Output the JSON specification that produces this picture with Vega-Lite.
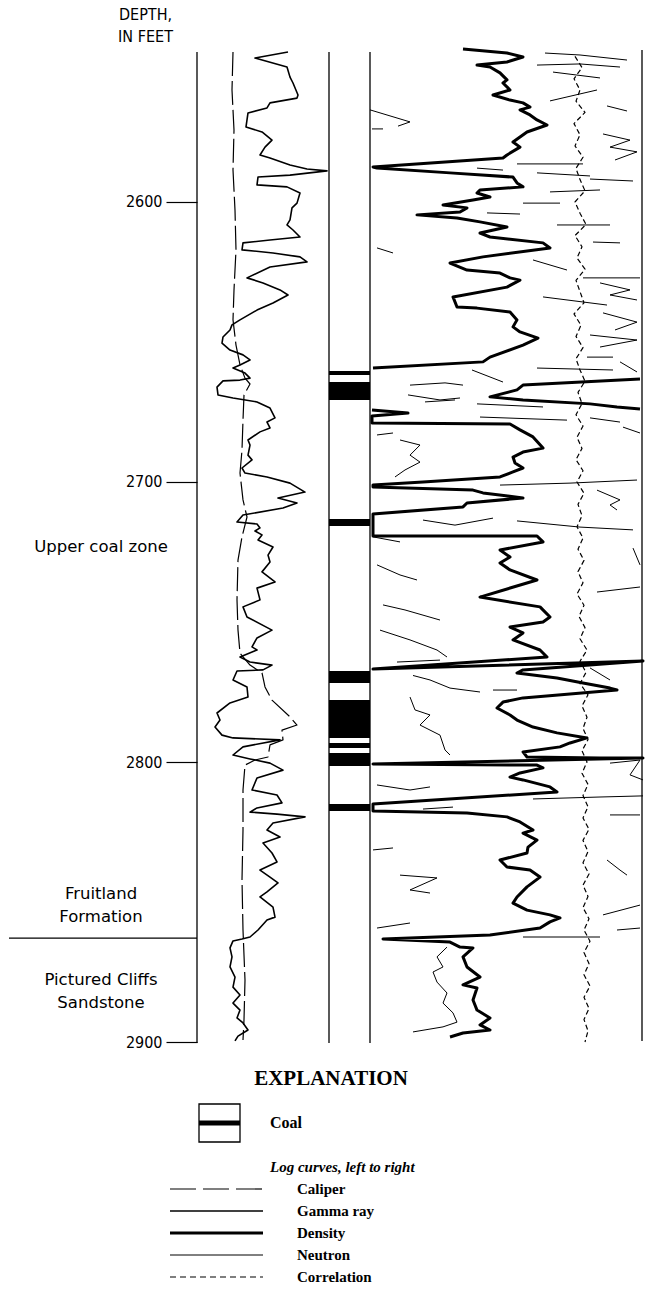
{
  "$schema": "https://vega.github.io/schema/vega-lite/v6.json",
  "width": 649,
  "height": 1293,
  "autosize": {"type": "fit", "contains": "padding"},
  "padding": 0,
  "background": "white",
  "config": {"view": {"stroke": null}},
  "datasets": {
    "gamma": [
      {"depth":2546.4,"value":91},{"depth":2548.6,"value":58},{"depth":2551.8,"value":90},{"depth":2555.4,"value":93},{"depth":2557.5,"value":96},{"depth":2561.8,"value":101},{"depth":2562.9,"value":100},{"depth":2564.6,"value":73},{"depth":2566.4,"value":70},{"depth":2568.2,"value":51},{"depth":2573.2,"value":49},{"depth":2575.0,"value":65},{"depth":2577.9,"value":75},{"depth":2580.4,"value":68},{"depth":2583.2,"value":63},{"depth":2584.3,"value":73},{"depth":2586.8,"value":93},{"depth":2588.2,"value":110},{"depth":2588.9,"value":130},{"depth":2590.4,"value":93},{"depth":2591.1,"value":61},{"depth":2593.9,"value":60},{"depth":2594.6,"value":90},{"depth":2596.8,"value":103},{"depth":2600.4,"value":100},{"depth":2602.1,"value":95},{"depth":2606.4,"value":93},{"depth":2608.2,"value":90},{"depth":2610.0,"value":96},{"depth":2612.5,"value":103},{"depth":2613.6,"value":73},{"depth":2614.6,"value":46},{"depth":2617.1,"value":45},{"depth":2618.2,"value":76},{"depth":2619.6,"value":103},{"depth":2621.4,"value":110},{"depth":2623.2,"value":73},{"depth":2627.1,"value":50},{"depth":2628.9,"value":66},{"depth":2631.4,"value":83},{"depth":2633.2,"value":91},{"depth":2636.1,"value":76},{"depth":2638.6,"value":60},{"depth":2642.1,"value":43},{"depth":2643.9,"value":35},{"depth":2645.7,"value":33},{"depth":2648.2,"value":26},{"depth":2650.4,"value":25},{"depth":2652.9,"value":33},{"depth":2654.6,"value":46},{"depth":2656.4,"value":53},{"depth":2658.2,"value":43},{"depth":2659.3,"value":36},{"depth":2661.1,"value":48},{"depth":2662.9,"value":53},{"depth":2663.6,"value":43},{"depth":2663.9,"value":26},{"depth":2666.1,"value":20},{"depth":2668.9,"value":21},{"depth":2670.0,"value":36},{"depth":2671.4,"value":60},{"depth":2673.6,"value":73},{"depth":2677.1,"value":78},{"depth":2678.6,"value":70},{"depth":2680.7,"value":73},{"depth":2682.1,"value":63},{"depth":2685.0,"value":51},{"depth":2686.8,"value":53},{"depth":2690.4,"value":51},{"depth":2692.1,"value":55},{"depth":2695.0,"value":45},{"depth":2696.8,"value":48},{"depth":2698.2,"value":70},{"depth":2700.4,"value":93},{"depth":2703.6,"value":108},{"depth":2705.7,"value":81},{"depth":2707.5,"value":100},{"depth":2709.3,"value":86},{"depth":2711.8,"value":46},{"depth":2714.3,"value":40},{"depth":2715.0,"value":60},{"depth":2716.4,"value":63},{"depth":2717.5,"value":58},{"depth":2718.9,"value":65},{"depth":2720.7,"value":61},{"depth":2723.2,"value":76},{"depth":2726.1,"value":71},{"depth":2728.6,"value":73},{"depth":2732.1,"value":65},{"depth":2735.7,"value":78},{"depth":2737.9,"value":60},{"depth":2742.1,"value":63},{"depth":2744.6,"value":46},{"depth":2748.2,"value":50},{"depth":2752.9,"value":75},{"depth":2755.7,"value":60},{"depth":2758.9,"value":55},{"depth":2760.0,"value":60},{"depth":2762.5,"value":43},{"depth":2764.3,"value":53},{"depth":2765.4,"value":75},{"depth":2767.1,"value":66},{"depth":2767.5,"value":40},{"depth":2770.7,"value":36},{"depth":2773.2,"value":50},{"depth":2776.8,"value":51},{"depth":2778.9,"value":33},{"depth":2782.5,"value":20},{"depth":2785.0,"value":23},{"depth":2787.5,"value":18},{"depth":2790.4,"value":25},{"depth":2791.4,"value":36},{"depth":2792.1,"value":83},{"depth":2794.6,"value":46},{"depth":2797.5,"value":36},{"depth":2798.9,"value":53},{"depth":2800.4,"value":73},{"depth":2802.9,"value":86},{"depth":2805.7,"value":60},{"depth":2810.0,"value":55},{"depth":2811.8,"value":80},{"depth":2814.6,"value":85},{"depth":2816.4,"value":60},{"depth":2817.9,"value":53},{"depth":2818.6,"value":80},{"depth":2819.6,"value":108},{"depth":2821.8,"value":76},{"depth":2824.3,"value":70},{"depth":2826.8,"value":83},{"depth":2828.9,"value":66},{"depth":2832.5,"value":75},{"depth":2835.7,"value":80},{"depth":2838.6,"value":63},{"depth":2841.1,"value":73},{"depth":2843.2,"value":81},{"depth":2846.4,"value":70},{"depth":2848.2,"value":63},{"depth":2851.8,"value":76},{"depth":2855.4,"value":78},{"depth":2856.4,"value":70},{"depth":2860.0,"value":61},{"depth":2862.5,"value":53},{"depth":2863.2,"value":45},{"depth":2863.9,"value":36},{"depth":2866.4,"value":33},{"depth":2869.6,"value":35},{"depth":2873.2,"value":33},{"depth":2876.8,"value":38},{"depth":2880.4,"value":36},{"depth":2883.2,"value":43},{"depth":2886.1,"value":36},{"depth":2888.6,"value":43},{"depth":2891.4,"value":40},{"depth":2893.2,"value":46},{"depth":2895.7,"value":51},{"depth":2897.9,"value":41},{"depth":2899.6,"value":38}
    ],
    "caliper": [
      {"depth":2546.4,"value":36},{"depth":2560.0,"value":35},{"depth":2574.3,"value":37},{"depth":2588.6,"value":36},{"depth":2602.9,"value":38},{"depth":2617.1,"value":39},{"depth":2631.4,"value":37},{"depth":2642.1,"value":36},{"depth":2651.1,"value":39},{"depth":2658.2,"value":43},{"depth":2662.9,"value":48},{"depth":2665.0,"value":53},{"depth":2668.9,"value":47},{"depth":2677.9,"value":46},{"depth":2688.6,"value":45},{"depth":2696.8,"value":43},{"depth":2706.4,"value":46},{"depth":2712.5,"value":50},{"depth":2719.6,"value":45},{"depth":2727.9,"value":41},{"depth":2742.1,"value":40},{"depth":2752.9,"value":41},{"depth":2761.1,"value":43},{"depth":2765.4,"value":53},{"depth":2768.2,"value":65},{"depth":2773.2,"value":68},{"depth":2777.9,"value":75},{"depth":2783.9,"value":93},{"depth":2786.8,"value":100},{"depth":2788.6,"value":85},{"depth":2792.1,"value":86},{"depth":2793.9,"value":73},{"depth":2798.2,"value":71},{"depth":2799.3,"value":58},{"depth":2801.1,"value":48},{"depth":2810.0,"value":46},{"depth":2824.3,"value":46},{"depth":2842.1,"value":45},{"depth":2860.0,"value":46},{"depth":2877.9,"value":48},{"depth":2892.1,"value":47},{"depth":2899.3,"value":46}
    ],
    "density": [
      {"seg":1,"depth":2545.4,"value":266},{"seg":1,"depth":2546.8,"value":310},{"seg":1,"depth":2548.2,"value":326},{"seg":1,"depth":2550.0,"value":310},{"seg":1,"depth":2551.1,"value":280},{"seg":1,"depth":2551.8,"value":293},{"seg":1,"depth":2553.9,"value":303},{"seg":1,"depth":2556.4,"value":310},{"seg":1,"depth":2557.5,"value":306},{"seg":1,"depth":2560.0,"value":313},{"seg":1,"depth":2561.8,"value":296},{"seg":1,"depth":2563.6,"value":313},{"seg":1,"depth":2564.6,"value":326},{"seg":1,"depth":2566.1,"value":333},{"seg":1,"depth":2567.1,"value":323},{"seg":1,"depth":2568.9,"value":333},{"seg":1,"depth":2570.7,"value":340},{"seg":1,"depth":2572.5,"value":350},{"seg":1,"depth":2575.0,"value":330},{"seg":1,"depth":2576.8,"value":323},{"seg":1,"depth":2578.6,"value":316},{"seg":1,"depth":2580.4,"value":323},{"seg":1,"depth":2583.2,"value":310},{"seg":1,"depth":2584.3,"value":306},{"seg":1,"depth":2587.5,"value":176},{"seg":1,"depth":2587.9,"value":180},{"seg":1,"depth":2589.6,"value":253},{"seg":1,"depth":2591.1,"value":316},{"seg":1,"depth":2593.2,"value":320},{"seg":1,"depth":2594.6,"value":326},{"seg":1,"depth":2595.7,"value":283},{"seg":1,"depth":2596.8,"value":280},{"seg":1,"depth":2598.2,"value":293},{"seg":1,"depth":2599.3,"value":276},{"seg":1,"depth":2601.1,"value":246},{"seg":1,"depth":2602.1,"value":270},{"seg":1,"depth":2603.6,"value":263},{"seg":1,"depth":2604.6,"value":220},{"seg":1,"depth":2605.7,"value":260},{"seg":1,"depth":2607.1,"value":283},{"seg":1,"depth":2608.9,"value":310},{"seg":1,"depth":2611.1,"value":283},{"seg":1,"depth":2612.5,"value":293},{"seg":1,"depth":2614.6,"value":346},{"seg":1,"depth":2616.4,"value":353},{"seg":1,"depth":2619.6,"value":286},{"seg":1,"depth":2621.8,"value":253},{"seg":1,"depth":2624.3,"value":270},{"seg":1,"depth":2625.4,"value":303},{"seg":1,"depth":2627.1,"value":313},{"seg":1,"depth":2627.9,"value":323},{"seg":1,"depth":2630.4,"value":310},{"seg":1,"depth":2633.9,"value":256},{"seg":1,"depth":2637.5,"value":260},{"seg":1,"depth":2637.9,"value":280},{"seg":1,"depth":2639.3,"value":313},{"seg":1,"depth":2642.1,"value":320},{"seg":1,"depth":2644.6,"value":316},{"seg":1,"depth":2646.4,"value":323},{"seg":1,"depth":2648.6,"value":341},{"seg":1,"depth":2651.1,"value":326},{"seg":1,"depth":2655.4,"value":293},{"seg":1,"depth":2657.1,"value":286},{"seg":1,"depth":2659.3,"value":176},
      {"seg":2,"depth":2663.2,"value":443},{"seg":2,"depth":2665.4,"value":326},{"seg":2,"depth":2667.1,"value":320},{"seg":2,"depth":2669.6,"value":293},{"seg":2,"depth":2670.7,"value":326},{"seg":2,"depth":2672.1,"value":393},{"seg":2,"depth":2673.2,"value":420},{"seg":2,"depth":2673.9,"value":443},
      {"seg":3,"depth":2674.3,"value":175},{"seg":3,"depth":2675.4,"value":211},{"seg":3,"depth":2676.4,"value":175},{"seg":3,"depth":2678.9,"value":175},{"seg":3,"depth":2679.3,"value":313},{"seg":3,"depth":2681.4,"value":323},{"seg":3,"depth":2683.9,"value":336},{"seg":3,"depth":2687.9,"value":346},{"seg":3,"depth":2689.3,"value":326},{"seg":3,"depth":2691.1,"value":316},{"seg":3,"depth":2693.2,"value":318},{"seg":3,"depth":2695.0,"value":326},{"seg":3,"depth":2696.4,"value":316},{"seg":3,"depth":2698.2,"value":303},{"seg":3,"depth":2700.0,"value":226},{"seg":3,"depth":2701.1,"value":176},{"seg":3,"depth":2701.8,"value":176},{"seg":3,"depth":2702.9,"value":276},{"seg":3,"depth":2703.9,"value":286},{"seg":3,"depth":2705.7,"value":326},{"seg":3,"depth":2707.5,"value":270},{"seg":3,"depth":2708.9,"value":266},{"seg":3,"depth":2711.4,"value":176},{"seg":3,"depth":2719.3,"value":176},{"seg":3,"depth":2719.3,"value":340},{"seg":3,"depth":2721.4,"value":346},{"seg":3,"depth":2724.3,"value":303},{"seg":3,"depth":2726.8,"value":313},{"seg":3,"depth":2728.9,"value":303},{"seg":3,"depth":2731.4,"value":313},{"seg":3,"depth":2735.0,"value":340},{"seg":3,"depth":2741.1,"value":283},{"seg":3,"depth":2744.6,"value":343},{"seg":3,"depth":2748.2,"value":353},{"seg":3,"depth":2750.0,"value":346},{"seg":3,"depth":2751.8,"value":313},{"seg":3,"depth":2753.9,"value":326},{"seg":3,"depth":2756.4,"value":316},{"seg":3,"depth":2760.0,"value":343},{"seg":3,"depth":2762.5,"value":350},{"seg":3,"depth":2766.8,"value":176},{"seg":3,"depth":2763.9,"value":446},{"seg":3,"depth":2767.1,"value":326},{"seg":3,"depth":2768.2,"value":320},{"seg":3,"depth":2770.0,"value":360},{"seg":3,"depth":2771.8,"value":386},{"seg":3,"depth":2773.6,"value":413},{"seg":3,"depth":2774.3,"value":420},{"seg":3,"depth":2777.1,"value":326},{"seg":3,"depth":2778.6,"value":306},{"seg":3,"depth":2780.7,"value":300},{"seg":3,"depth":2783.2,"value":313},{"seg":3,"depth":2785.0,"value":320},{"seg":3,"depth":2787.5,"value":336},{"seg":3,"depth":2789.6,"value":360},{"seg":3,"depth":2791.4,"value":390},{"seg":3,"depth":2793.2,"value":373},{"seg":3,"depth":2794.6,"value":363},{"seg":3,"depth":2796.4,"value":326},{"seg":3,"depth":2798.2,"value":330},{"seg":3,"depth":2798.6,"value":403},{"seg":3,"depth":2798.6,"value":446},{"seg":3,"depth":2800.7,"value":176},{"seg":3,"depth":2801.1,"value":340},{"seg":3,"depth":2802.1,"value":346},{"seg":3,"depth":2803.9,"value":323},{"seg":3,"depth":2805.4,"value":313},{"seg":3,"depth":2806.4,"value":326},{"seg":3,"depth":2808.9,"value":353},{"seg":3,"depth":2810.7,"value":360},{"seg":3,"depth":2815.0,"value":176},{"seg":3,"depth":2817.5,"value":176},{"seg":3,"depth":2818.2,"value":270},{"seg":3,"depth":2819.6,"value":310},{"seg":3,"depth":2821.4,"value":323},{"seg":3,"depth":2824.3,"value":336},{"seg":3,"depth":2825.4,"value":326},{"seg":3,"depth":2827.9,"value":340},{"seg":3,"depth":2830.4,"value":331},{"seg":3,"depth":2832.5,"value":330},{"seg":3,"depth":2835.0,"value":303},{"seg":3,"depth":2837.5,"value":310},{"seg":3,"depth":2838.6,"value":333},{"seg":3,"depth":2841.1,"value":343},{"seg":3,"depth":2844.6,"value":330},{"seg":3,"depth":2848.2,"value":320},{"seg":3,"depth":2850.4,"value":316},{"seg":3,"depth":2852.9,"value":330},{"seg":3,"depth":2854.6,"value":353},{"seg":3,"depth":2855.7,"value":363},{"seg":3,"depth":2857.1,"value":353},{"seg":3,"depth":2859.3,"value":343},{"seg":3,"depth":2861.8,"value":293},{"seg":3,"depth":2863.2,"value":186},{"seg":3,"depth":2864.3,"value":253},{"seg":3,"depth":2866.1,"value":263},{"seg":3,"depth":2866.4,"value":276},{"seg":3,"depth":2869.6,"value":266},{"seg":3,"depth":2873.2,"value":270},{"seg":3,"depth":2876.8,"value":283},{"seg":3,"depth":2879.6,"value":266},{"seg":3,"depth":2880.7,"value":280},{"seg":3,"depth":2885.0,"value":276},{"seg":3,"depth":2888.6,"value":280},{"seg":3,"depth":2891.4,"value":293},{"seg":3,"depth":2893.9,"value":283},{"seg":3,"depth":2895.7,"value":293},{"seg":3,"depth":2896.8,"value":266},{"seg":3,"depth":2898.2,"value":253}
    ],
    "neutron": [
      {"seg":1,"depth":2546.8,"value":348},{"seg":1,"depth":2547.5,"value":383},{"seg":1,"depth":2549.3,"value":430},
      {"seg":2,"depth":2551.1,"value":340},{"seg":2,"depth":2550.7,"value":383},{"seg":2,"depth":2551.8,"value":423},
      {"seg":3,"depth":2553.6,"value":356},{"seg":3,"depth":2555.7,"value":403},
      {"seg":4,"depth":2563.9,"value":353},{"seg":4,"depth":2560.0,"value":400},
      {"seg":5,"depth":2565.7,"value":410},{"seg":5,"depth":2567.5,"value":430},
      {"seg":6,"depth":2567.1,"value":173},{"seg":6,"depth":2571.4,"value":213},{"seg":6,"depth":2572.9,"value":201},
      {"seg":7,"depth":2573.9,"value":175},{"seg":7,"depth":2573.9,"value":186},
      {"seg":8,"depth":2575.7,"value":406},{"seg":8,"depth":2577.9,"value":433},{"seg":8,"depth":2580.4,"value":413},{"seg":8,"depth":2582.1,"value":440},{"seg":8,"depth":2585.0,"value":418},
      {"seg":9,"depth":2586.4,"value":320},{"seg":9,"depth":2586.4,"value":386},
      {"seg":10,"depth":2587.9,"value":280},{"seg":10,"depth":2588.6,"value":306},
      {"seg":11,"depth":2589.6,"value":340},{"seg":11,"depth":2590.7,"value":393},
      {"seg":12,"depth":2591.8,"value":393},{"seg":12,"depth":2592.5,"value":436},
      {"seg":13,"depth":2596.4,"value":353},{"seg":13,"depth":2595.7,"value":403},
      {"seg":14,"depth":2600.4,"value":326},{"seg":14,"depth":2600.4,"value":363},
      {"seg":15,"depth":2603.9,"value":290},{"seg":15,"depth":2604.3,"value":323},
      {"seg":16,"depth":2608.2,"value":360},{"seg":16,"depth":2608.2,"value":413},
      {"seg":17,"depth":2614.3,"value":396},{"seg":17,"depth":2614.6,"value":423},
      {"seg":18,"depth":2620.7,"value":336},{"seg":18,"depth":2624.3,"value":370},
      {"seg":19,"depth":2627.1,"value":386},{"seg":19,"depth":2627.1,"value":443},
      {"seg":20,"depth":2628.9,"value":403},{"seg":20,"depth":2631.4,"value":433},{"seg":20,"depth":2633.2,"value":413},{"seg":20,"depth":2635.0,"value":440},
      {"seg":21,"depth":2633.9,"value":346},{"seg":21,"depth":2636.8,"value":410},
      {"seg":22,"depth":2639.6,"value":406},{"seg":22,"depth":2642.9,"value":440},{"seg":22,"depth":2645.7,"value":418},
      {"seg":23,"depth":2616.4,"value":180},{"seg":23,"depth":2618.2,"value":196},
      {"seg":24,"depth":2647.5,"value":393},{"seg":24,"depth":2649.3,"value":440},{"seg":24,"depth":2651.8,"value":403},
      {"seg":25,"depth":2655.4,"value":390},{"seg":25,"depth":2655.4,"value":416},
      {"seg":26,"depth":2659.3,"value":340},{"seg":26,"depth":2660.0,"value":416},
      {"seg":27,"depth":2657.1,"value":423},{"seg":27,"depth":2660.7,"value":440},
      {"seg":28,"depth":2660.0,"value":275},{"seg":28,"depth":2664.3,"value":306},
      {"seg":29,"depth":2665.4,"value":213},{"seg":29,"depth":2664.6,"value":248},{"seg":29,"depth":2665.4,"value":266},
      {"seg":30,"depth":2668.9,"value":211},{"seg":30,"depth":2670.7,"value":243},{"seg":30,"depth":2670.0,"value":263},
      {"seg":31,"depth":2671.4,"value":228},{"seg":31,"depth":2670.7,"value":258},
      {"seg":32,"depth":2672.1,"value":280},{"seg":32,"depth":2673.2,"value":346},
      {"seg":33,"depth":2676.8,"value":283},{"seg":33,"depth":2677.9,"value":370},
      {"seg":34,"depth":2677.1,"value":393},{"seg":34,"depth":2678.6,"value":423},
      {"seg":35,"depth":2680.4,"value":426},{"seg":35,"depth":2682.5,"value":443},
      {"seg":36,"depth":2683.2,"value":180},{"seg":36,"depth":2682.5,"value":196},
      {"seg":37,"depth":2685.0,"value":203},{"seg":37,"depth":2686.8,"value":223},{"seg":37,"depth":2690.4,"value":213},{"seg":37,"depth":2692.9,"value":223},{"seg":37,"depth":2695.7,"value":208},{"seg":37,"depth":2698.2,"value":198},
      {"seg":38,"depth":2701.1,"value":303},{"seg":38,"depth":2700.4,"value":373},{"seg":38,"depth":2699.3,"value":440},
      {"seg":39,"depth":2702.9,"value":400},{"seg":39,"depth":2706.4,"value":423},{"seg":39,"depth":2708.2,"value":413},{"seg":39,"depth":2710.0,"value":420},
      {"seg":40,"depth":2713.6,"value":226},{"seg":40,"depth":2715.4,"value":258},{"seg":40,"depth":2712.9,"value":296},
      {"seg":41,"depth":2713.9,"value":320},{"seg":41,"depth":2716.1,"value":383},{"seg":41,"depth":2717.1,"value":436},
      {"seg":42,"depth":2719.6,"value":176},{"seg":42,"depth":2721.4,"value":203},
      {"seg":43,"depth":2729.6,"value":180},{"seg":43,"depth":2733.2,"value":203},{"seg":43,"depth":2735.0,"value":220},
      {"seg":44,"depth":2743.9,"value":186},{"seg":44,"depth":2745.7,"value":208},{"seg":44,"depth":2749.3,"value":243},
      {"seg":45,"depth":2739.3,"value":400},{"seg":45,"depth":2737.5,"value":443},
      {"seg":46,"depth":2723.6,"value":436},{"seg":46,"depth":2729.6,"value":443},
      {"seg":47,"depth":2752.9,"value":183},{"seg":47,"depth":2756.4,"value":213},{"seg":47,"depth":2760.0,"value":240},{"seg":47,"depth":2762.5,"value":250},
      {"seg":48,"depth":2764.3,"value":200},{"seg":48,"depth":2763.6,"value":243},
      {"seg":49,"depth":2769.1,"value":216},{"seg":49,"depth":2770.7,"value":233},{"seg":49,"depth":2773.6,"value":253},{"seg":49,"depth":2775.0,"value":283},
      {"seg":50,"depth":2774.3,"value":296},{"seg":50,"depth":2774.3,"value":320},
      {"seg":51,"depth":2776.8,"value":213},{"seg":51,"depth":2781.4,"value":218},{"seg":51,"depth":2783.2,"value":233},{"seg":51,"depth":2786.8,"value":223},{"seg":51,"depth":2790.4,"value":243},{"seg":51,"depth":2795.7,"value":248},{"seg":51,"depth":2797.5,"value":253},
      {"seg":52,"depth":2766.4,"value":393},{"seg":52,"depth":2770.7,"value":413},
      {"seg":53,"depth":2808.2,"value":180},{"seg":53,"depth":2810.0,"value":213},{"seg":53,"depth":2808.9,"value":233},
      {"seg":54,"depth":2813.2,"value":336},{"seg":54,"depth":2812.5,"value":403},{"seg":54,"depth":2812.1,"value":446},
      {"seg":55,"depth":2816.8,"value":226},{"seg":55,"depth":2816.1,"value":256},
      {"seg":56,"depth":2800.4,"value":413},{"seg":56,"depth":2799.3,"value":443},{"seg":56,"depth":2804.6,"value":433},{"seg":56,"depth":2806.4,"value":446},
      {"seg":57,"depth":2818.9,"value":413},{"seg":57,"depth":2818.9,"value":443},
      {"seg":58,"depth":2831.4,"value":176},{"seg":58,"depth":2830.7,"value":196},
      {"seg":59,"depth":2840.4,"value":203},{"seg":59,"depth":2841.4,"value":240},{"seg":59,"depth":2845.7,"value":213},{"seg":59,"depth":2846.8,"value":233},
      {"seg":60,"depth":2859.3,"value":180},{"seg":60,"depth":2857.5,"value":213},
      {"seg":61,"depth":2862.5,"value":326},{"seg":61,"depth":2862.5,"value":403},
      {"seg":62,"depth":2835.0,"value":410},{"seg":62,"depth":2838.6,"value":423},{"seg":62,"depth":2840.4,"value":430},
      {"seg":63,"depth":2854.6,"value":406},{"seg":63,"depth":2851.1,"value":443},
      {"seg":64,"depth":2860.0,"value":420},{"seg":64,"depth":2859.3,"value":443},
      {"seg":65,"depth":2866.1,"value":250},{"seg":65,"depth":2869.6,"value":240},{"seg":65,"depth":2873.2,"value":246},{"seg":65,"depth":2875.0,"value":236},{"seg":65,"depth":2878.6,"value":240},{"seg":65,"depth":2882.5,"value":250},{"seg":65,"depth":2886.1,"value":246},{"seg":65,"depth":2889.6,"value":256},{"seg":65,"depth":2892.9,"value":260},{"seg":65,"depth":2894.6,"value":246},{"seg":65,"depth":2896.4,"value":216}
    ],
    "correlation": [
      {"depth":2548,"value":378},{"depth":2552,"value":385},{"depth":2556,"value":377},{"depth":2560,"value":383},{"depth":2564,"value":379},{"depth":2568,"value":388},{"depth":2572,"value":377},{"depth":2576,"value":383},{"depth":2580,"value":378},{"depth":2584,"value":386},{"depth":2588,"value":379},{"depth":2592,"value":383},{"depth":2596,"value":388},{"depth":2600,"value":378},{"depth":2604,"value":383},{"depth":2608,"value":389},{"depth":2612,"value":378},{"depth":2616,"value":385},{"depth":2620,"value":380},{"depth":2624,"value":388},{"depth":2628,"value":379},{"depth":2632,"value":383},{"depth":2636,"value":387},{"depth":2640,"value":377},{"depth":2644,"value":384},{"depth":2648,"value":379},{"depth":2652,"value":386},{"depth":2656,"value":379},{"depth":2660,"value":383},{"depth":2664,"value":388},{"depth":2668,"value":381},{"depth":2672,"value":385},{"depth":2676,"value":379},{"depth":2680,"value":386},{"depth":2684,"value":380},{"depth":2688,"value":385},{"depth":2692,"value":379},{"depth":2696,"value":386},{"depth":2700,"value":380},{"depth":2704,"value":387},{"depth":2708,"value":381},{"depth":2712,"value":385},{"depth":2716,"value":380},{"depth":2720,"value":386},{"depth":2724,"value":381},{"depth":2728,"value":387},{"depth":2732,"value":381},{"depth":2736,"value":386},{"depth":2740,"value":380},{"depth":2744,"value":387},{"depth":2748,"value":382},{"depth":2752,"value":388},{"depth":2756,"value":383},{"depth":2760,"value":390},{"depth":2764,"value":383},{"depth":2768,"value":389},{"depth":2772,"value":383},{"depth":2776,"value":391},{"depth":2780,"value":385},{"depth":2784,"value":390},{"depth":2788,"value":386},{"depth":2792,"value":391},{"depth":2796,"value":385},{"depth":2800,"value":390},{"depth":2804,"value":385},{"depth":2808,"value":391},{"depth":2812,"value":386},{"depth":2816,"value":391},{"depth":2820,"value":386},{"depth":2824,"value":392},{"depth":2828,"value":386},{"depth":2832,"value":391},{"depth":2836,"value":386},{"depth":2840,"value":392},{"depth":2844,"value":386},{"depth":2848,"value":391},{"depth":2852,"value":386},{"depth":2856,"value":392},{"depth":2860,"value":387},{"depth":2864,"value":393},{"depth":2868,"value":387},{"depth":2872,"value":392},{"depth":2876,"value":387},{"depth":2880,"value":393},{"depth":2884,"value":387},{"depth":2888,"value":392},{"depth":2892,"value":387},{"depth":2896,"value":391},{"depth":2900,"value":388}
    ],
    "explanation": [
      {"item":"EXPLANATION","role":"heading"},
      {"item":"Coal","role":"lithology"},
      {"item":"Log curves, left to right","role":"subheading"},
      {"item":"Caliper","role":"curve"},
      {"item":"Gamma ray","role":"curve"},
      {"item":"Density","role":"curve"},
      {"item":"Neutron","role":"curve"},
      {"item":"Correlation","role":"curve"}
    ]
  },
  "layer": [
    {
      "encoding": {
        "y": {
          "field": "depth", "type": "quantitative",
          "scale": {"domain": [2527.86, 2989.64], "reverse": true, "nice": false, "zero": false},
          "axis": {
            "values": [2600, 2700, 2800, 2900], "format": "d", "offset": -197, "domain": false, "grid": false,
            "tickSize": 31, "tickColor": "black", "tickWidth": 1.2,
            "labelFont": "Liberation Sans Narrow, DejaVu Sans Condensed, sans-serif", "labelFontSize": 16, "labelColor": "black", "labelPadding": 4,
            "title": ["DEPTH,", "IN FEET"], "titleAngle": 0, "titleAlign": "center", "titleBaseline": "top",
            "titleX": -52, "titleY": 6, "titleFont": "Liberation Sans Narrow, DejaVu Sans Condensed, sans-serif",
            "titleFontSize": 16, "titleFontWeight": "normal", "titleColor": "black", "titleLineHeight": 22
          }
        }
      },
      "layer": [
        {
          "encoding": {
            "x": {"field": "value", "type": "quantitative", "scale": {"domain": [-197, 452], "nice": false, "zero": false}, "axis": null}
          },
          "layer": [
            {
              "data": {"values": [
                {"track": "Depth scale", "value": 0, "depth": 2546.4, "base": 2900.4},
                {"track": "Gamma ray track right", "value": 132, "depth": 2546.4, "base": 2900.4},
                {"track": "Lithology right", "value": 173, "depth": 2546.4, "base": 2900.4},
                {"track": "Porosity track right", "value": 445, "depth": 2545.7, "base": 2899.6}
              ]},
              "mark": {"type": "rule", "color": "black", "strokeWidth": 1.3},
              "encoding": {"y2": {"field": "base"}}
            },
            {
              "data": {"name": "caliper"},
              "mark": {"type": "line", "color": "black", "strokeWidth": 1.2, "strokeDash": [24, 5], "strokeJoin": "round"},
              "encoding": {"order": {"value": null}}
            },
            {
              "data": {"name": "gamma"},
              "mark": {"type": "line", "color": "black", "strokeWidth": 1.6, "strokeJoin": "round"},
              "encoding": {"order": {"value": null}}
            },
            {
              "data": {"name": "neutron"},
              "mark": {"type": "line", "color": "black", "strokeWidth": 1, "strokeJoin": "round"},
              "encoding": {"detail": {"field": "seg", "type": "nominal"}, "order": {"value": null}}
            },
            {
              "data": {"name": "correlation"},
              "mark": {"type": "line", "color": "black", "strokeWidth": 1.2, "strokeDash": [5, 3], "strokeJoin": "round"},
              "encoding": {"order": {"value": null}}
            },
            {
              "data": {"name": "density"},
              "mark": {"type": "line", "color": "black", "strokeWidth": 3, "strokeJoin": "round"},
              "encoding": {"detail": {"field": "seg", "type": "nominal"}, "order": {"value": null}}
            }
          ]
        },
        {
          "data": {"values": [
            {"depth": 2660.4, "base": 2661.8}, {"depth": 2664.3, "base": 2670.7}, {"depth": 2713.2, "base": 2715.7},
            {"depth": 2767.5, "base": 2771.8}, {"depth": 2777.9, "base": 2791.4}, {"depth": 2793.2, "base": 2795.0},
            {"depth": 2796.8, "base": 2801.4}, {"depth": 2815.0, "base": 2817.5}
          ]},
          "mark": {"type": "rect", "color": "black"},
          "encoding": {"x": {"datum": 132}, "x2": {"datum": 173}, "y2": {"field": "base"}}
        },
        {
          "data": {"values": [{"contact": "Fruitland / Pictured Cliffs", "depth": 2862.9}]},
          "mark": {"type": "rule", "color": "black", "strokeWidth": 1.3},
          "encoding": {"x": {"datum": -188}, "x2": {"datum": 0}}
        },
        {
          "data": {"values": [
            {"label": "Upper coal zone", "depth": 2723.2},
            {"label": "Fruitland\nFormation", "depth": 2847.3},
            {"label": "Pictured Cliffs\nSandstone", "depth": 2877.7}
          ]},
          "mark": {"type": "text", "font": "DejaVu Sans", "fontSize": 16.5, "color": "black", "align": "center", "baseline": "middle", "lineBreak": "\n", "lineHeight": 23},
          "encoding": {"x": {"datum": -96}, "text": {"field": "label", "type": "nominal"}}
        }
      ]
    },
    {
      "data": {"name": "explanation"},
      "encoding": {
        "y": {"field": "item", "type": "nominal",
          "scale": {"type": "point", "domain": ["EXPLANATION", " ", "Coal", "  ", "Log curves, left to right", "Caliper", "Gamma ray", "Density", "Neutron", "Correlation"], "range": [1079, 1277], "padding": 0},
          "axis": null}
      },
      "layer": [
        {
          "transform": [{"filter": "datum.role === 'heading'"}],
          "mark": {"type": "text", "font": "Liberation Serif", "fontSize": 21, "fontWeight": "bold", "color": "black", "align": "center", "baseline": "middle"},
          "encoding": {"x": {"datum": 134}, "text": {"field": "item", "type": "nominal"}}
        },
        {
          "transform": [{"filter": "datum.role === 'lithology'"}],
          "mark": {"type": "rect", "fill": "white", "stroke": "black", "strokeWidth": 1.3, "height": 38},
          "encoding": {"x": {"datum": 2}, "x2": {"datum": 43}}
        },
        {
          "transform": [{"filter": "datum.role === 'lithology'"}],
          "mark": {"type": "rule", "color": "black", "strokeWidth": 5},
          "encoding": {"x": {"datum": 2}, "x2": {"datum": 43}}
        },
        {
          "transform": [{"filter": "datum.role === 'lithology'"}],
          "mark": {"type": "text", "font": "Liberation Serif", "fontSize": 16, "fontWeight": "bold", "color": "black", "align": "left", "baseline": "middle"},
          "encoding": {"x": {"datum": 73}, "text": {"field": "item", "type": "nominal"}}
        },
        {
          "transform": [{"filter": "datum.role === 'subheading'"}],
          "mark": {"type": "text", "font": "Liberation Serif", "fontSize": 15, "fontWeight": "bold", "fontStyle": "italic", "color": "black", "align": "left", "baseline": "middle"},
          "encoding": {"x": {"datum": 73}, "text": {"field": "item", "type": "nominal"}}
        },
        {
          "transform": [{"filter": "datum.role === 'curve'"}],
          "mark": {"type": "text", "font": "Liberation Serif", "fontSize": 15, "fontWeight": "bold", "color": "black", "align": "left", "baseline": "middle"},
          "encoding": {"x": {"datum": 100}, "text": {"field": "item", "type": "nominal"}}
        },
        {
          "transform": [{"filter": "datum.item === 'Caliper'"}],
          "mark": {"type": "rule", "color": "black", "strokeWidth": 1.2, "strokeDash": [26, 7]},
          "encoding": {"x": {"datum": -27}, "x2": {"datum": 66}}
        },
        {
          "transform": [{"filter": "datum.item === 'Gamma ray'"}],
          "mark": {"type": "rule", "color": "black", "strokeWidth": 1.6},
          "encoding": {"x": {"datum": -27}, "x2": {"datum": 66}}
        },
        {
          "transform": [{"filter": "datum.item === 'Density'"}],
          "mark": {"type": "rule", "color": "black", "strokeWidth": 3},
          "encoding": {"x": {"datum": -27}, "x2": {"datum": 66}}
        },
        {
          "transform": [{"filter": "datum.item === 'Neutron'"}],
          "mark": {"type": "rule", "color": "black", "strokeWidth": 1},
          "encoding": {"x": {"datum": -27}, "x2": {"datum": 66}}
        },
        {
          "transform": [{"filter": "datum.item === 'Correlation'"}],
          "mark": {"type": "rule", "color": "black", "strokeWidth": 1.2, "strokeDash": [6, 4]},
          "encoding": {"x": {"datum": -27}, "x2": {"datum": 66}}
        }
      ]
    }
  ],
  "resolve": {"scale": {"y": "independent"}}
}
